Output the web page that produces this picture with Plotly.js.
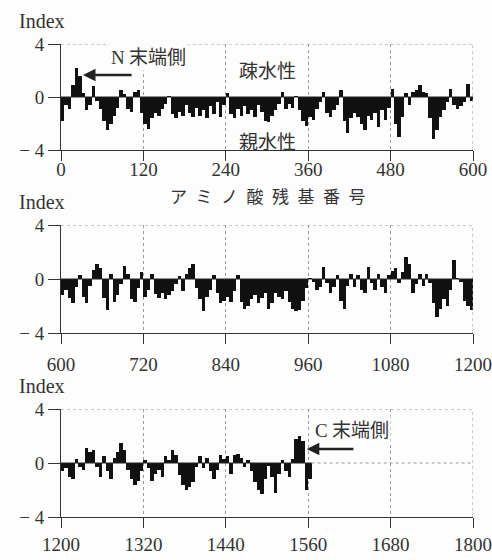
<!DOCTYPE html>
<html><head><meta charset="utf-8">
<script src="https://cdn.plot.ly/plotly-3.0.1.min.js"></script>
<style>html,body{margin:0;padding:0;background:#fdfdfd;}</style>
</head><body>
<div id="chart" style="width:492px;height:560px;"></div>
<script>
// Hydropathy index, averaged over windows of 5 residues
const step = 5;
const panel1Start = 0, panel2Start = 600, panel3Start = 1200;
const hydro1 = [
 -1.8,-0.6,-0.9,0.9,2.2,1.6,0.3,-1.0,-0.6,0.8,
 -0.3,-0.9,-1.8,-2.5,-2.0,-1.4,-0.8,0.5,0.2,-0.9,
 -1.1,0.4,0.5,-1.2,-2.0,-2.4,-1.6,-1.2,-1.4,-0.9,
 -0.5,0.1,-1.3,-1.6,-1.1,-1.4,-0.6,-1.2,-1.5,-0.8,
 -1.4,-1.0,-1.6,-0.7,-1.3,-0.4,-1.5,-0.6,0.3,-1.3,
 -1.6,-0.9,-1.4,-0.7,-1.3,-1.0,-1.5,-0.6,-1.1,-1.8,
 -1.9,-1.4,-1.0,-0.5,0.4,-0.9,-0.5,-0.8,0.1,-1.0,
 -1.8,-2.2,-1.5,-1.7,-0.9,-0.4,0.4,-1.2,-1.5,-1.0,
 -0.6,0.5,-1.8,-2.7,-1.6,-1.2,-1.5,-2.0,-2.5,-1.4,
 -1.7,-1.2,-2.3,-1.0,-1.7,-0.8,0.6,-2.0,-3.0,-1.5,
 0.3,-0.6,0.4,0.5,0.9,0.4,0.3,-1.6,-3.2,-2.5,
 -1.5,-1.0,-0.4,0.6,-0.6,-0.9,-0.7,-0.4,1.0,-0.3
];
const hydro2 = [
 -1.2,-0.8,-1.4,-1.8,-0.6,0.3,-1.3,-1.8,-0.5,0.7,
 1.1,0.8,-1.4,-2.3,0.4,-1.7,-1.2,-0.4,1.0,0.4,
 -1.5,-1.7,-0.7,0.5,-1.3,-0.8,0.4,-1.1,-1.4,-1.0,
 -1.5,-1.2,-0.9,-0.4,0.2,-0.9,0.4,0.8,1.1,-0.7,
 -1.5,-2.4,-1.3,-0.8,0.3,-1.0,-1.8,-1.6,-1.3,-1.7,
 -0.9,0.3,-1.7,-2.2,-2.0,-1.5,-1.2,-1.8,-1.4,-1.0,
 -2.2,-1.8,-1.0,-1.3,-1.5,-0.9,-1.7,-2.2,-2.4,-2.3,
 -1.6,-0.7,0.1,-0.2,-0.8,-0.6,0.9,-0.3,-1.0,-0.6,
 0.3,-1.6,-2.2,-0.5,0.4,-0.6,0.3,-0.8,-1.0,0.9,
 -0.3,-0.8,0.4,-0.6,-1.0,0.3,0.6,0.8,-0.3,0.5,
 1.6,1.1,-1.0,-0.4,0.4,-0.5,0.4,-0.3,-1.8,-2.8,
 -2.2,-1.5,-2.0,-0.8,1.4,0.1,-0.2,-1.6,-2.0,-2.3
];
const hydro3 = [
 -0.6,-0.4,-1.0,-1.2,0.3,-0.3,-0.5,1.1,0.8,1.0,
 -0.3,-1.0,0.5,-0.6,-1.2,0.4,0.8,1.5,1.0,-0.5,
 -1.2,-1.6,-1.3,-0.6,0.2,-0.4,-1.3,-0.8,-0.5,-1.0,
 0.5,0.2,1.0,0.6,-0.9,-1.6,-2.0,-1.8,-1.4,-0.3,
 0.5,-0.4,0.4,-0.6,-1.2,-0.5,0.6,0.3,0.5,-0.8,
 0.6,0.7,0.4,-0.3,0.2,-0.6,-1.4,-2.0,-2.3,-1.2,
 -0.2,-1.0,-2.2,-0.8,0.2,-0.6,-1.0,0.3,1.8,2.0,
 1.6,-2.0,-1.2
];
const ticks1 = [0,120,240,360,480,600];
const ticks2 = [600,720,840,960,1080,1200];
const ticks3 = [1200,1320,1440,1560,1680,1800];
const yTicks = [-4,0,4];
const yTickText = ['− 4','0','4'];

function xs(start, arr){ return arr.map((_,i)=>start + step*i + step/2); }
const dataEnd3 = panel3Start + hydro3.length*step;

const barStyle = {type:'bar', width:step, marker:{color:'#111', line:{width:0}}, hoverinfo:'skip'};
const data = [
 Object.assign({}, barStyle, {x:xs(panel1Start,hydro1), y:hydro1, xaxis:'x', yaxis:'y'}),
 Object.assign({}, barStyle, {x:xs(panel2Start,hydro2), y:hydro2, xaxis:'x2', yaxis:'y2'}),
 Object.assign({}, barStyle, {x:xs(panel3Start,hydro3), y:hydro3, xaxis:'x3', yaxis:'y3'})
];

const ink = '#333';
const grid = '#9d96a2';
const serif = 'Liberation Serif, Times New Roman, serif';
const tickFont = {family:serif, size:19, color:ink};
function xAx(ticks, yref, standoff){
  return {anchor:yref, range:[ticks[0], ticks[ticks.length-1]], tickvals:ticks, ticktext:ticks.map(String),
    showgrid:true, griddash:'dot', gridcolor:grid, gridwidth:1, zeroline:false,
    showline:true, linecolor:ink, linewidth:1, ticks:'outside', ticklen:10, tickcolor:ink,
    ticklabelstandoff:standoff, tickfont:tickFont, fixedrange:true};
}
function yAx(xref, dom){
  return {anchor:xref, domain:dom, range:[-4,4], tickvals:yTicks, ticktext:yTickText,
    showgrid:false, zeroline:false, showline:true, linecolor:ink, linewidth:1,
    ticks:'outside', ticklen:12, tickcolor:ink, tickfont:tickFont, fixedrange:true};
}
function border(xr, yr, x0, x1){
  return [
    {type:'line', xref:xr, yref:yr, x0:x0, x1:x1, y0:4, y1:4, line:{color:grid, width:1, dash:'dot'}},
    {type:'line', xref:xr, yref:yr, x0:x1, x1:x1, y0:-4, y1:4, line:{color:grid, width:1, dash:'dot'}}
  ];
}
const shapes = [].concat(
  border('x','y',0,600), border('x2','y2',600,1200), border('x3','y3',1200,1800),
  [
   {type:'line', xref:'x', yref:'y', x0:0, x1:600, y0:0, y1:0, line:{color:'#222', width:1}},
   {type:'line', xref:'x2', yref:'y2', x0:600, x1:1200, y0:0, y1:0, line:{color:'#222', width:1}},
   {type:'line', xref:'x3', yref:'y3', x0:1200, x1:dataEnd3, y0:0, y1:0, line:{color:'#222', width:1}},
   {type:'line', xref:'x3', yref:'y3', x0:dataEnd3, x1:1800, y0:0, y1:0, line:{color:grid, width:1, dash:'dot'}}
  ]
);

const jp = 'Noto Sans CJK JP, Liberation Serif, serif';
const idxFont = {family:serif, size:20, color:ink};
const annotations = [
 {xref:'paper', yref:'paper', x:-0.107, y:1-21/560, xanchor:'left', yanchor:'middle', text:'Index', showarrow:false, font:idxFont},
 {xref:'paper', yref:'paper', x:-0.107, y:1-202/560, xanchor:'left', yanchor:'middle', text:'Index', showarrow:false, font:idxFont},
 {xref:'paper', yref:'paper', x:-0.107, y:1-386/560, xanchor:'left', yanchor:'middle', text:'Index', showarrow:false, font:idxFont},
 {xref:'paper', yref:'paper', x:0.502, y:1-195/560, xanchor:'center', yanchor:'middle',
  text:'ア\u2002ミ\u2002ノ\u2002酸\u2002残\u2002基\u2002番\u2002号', showarrow:false, font:{family:jp, size:17, color:ink}},
 {xref:'x', yref:'y', x:127, y:3.1, text:'<span style="font-family:Liberation Serif">N</span> 末端側', showarrow:false,
  font:{family:jp, size:19, color:ink}, bgcolor:'#fdfdfd'},
 {xref:'x', yref:'y', x:32, y:1.66, ax:105, ay:1.66, axref:'x', ayref:'y', text:'', showarrow:true,
  arrowhead:2, arrowsize:1, arrowwidth:2.5, arrowcolor:'#222', standoff:0, startstandoff:0},
 {xref:'x', yref:'y', x:300, y:2.1, text:'疎水性', showarrow:false, font:{family:jp, size:19, color:ink}},
 {xref:'x', yref:'y', x:300, y:-3.25, text:'親水性', showarrow:false, font:{family:jp, size:19, color:ink}},
 {xref:'x3', yref:'y3', x:1624, y:2.55, text:'<span style="font-family:Liberation Serif">C</span> 末端側', showarrow:false,
  font:{family:jp, size:19, color:ink}, bgcolor:'#fdfdfd'},
 {xref:'x3', yref:'y3', x:1558, y:1.04, ax:1628, ay:1.04, axref:'x3', ayref:'y3', text:'', showarrow:true,
  arrowhead:2, arrowsize:1, arrowwidth:2.5, arrowcolor:'#222', standoff:0, startstandoff:0}
];

const layout = {
  width:492, height:560, paper_bgcolor:'#fdfdfd', plot_bgcolor:'rgba(0,0,0,0)',
  margin:{l:61, r:19, t:0, b:0, autoexpand:false}, showlegend:false, bargap:0,
  font:{family:serif, size:19, color:ink},
  xaxis:xAx(ticks1,'y',-8), yaxis:yAx('x',[1-150/560, 1-44/560]),
  xaxis2:xAx(ticks2,'y2',4), yaxis2:yAx('x2',[1-333/560, 1-225/560]),
  xaxis3:xAx(ticks3,'y3',0), yaxis3:yAx('x3',[1-517/560, 1-409/560]),
  shapes:shapes, annotations:annotations
};
Plotly.newPlot('chart', data, layout, {displayModeBar:false, staticPlot:true});
</script>
</body></html>
